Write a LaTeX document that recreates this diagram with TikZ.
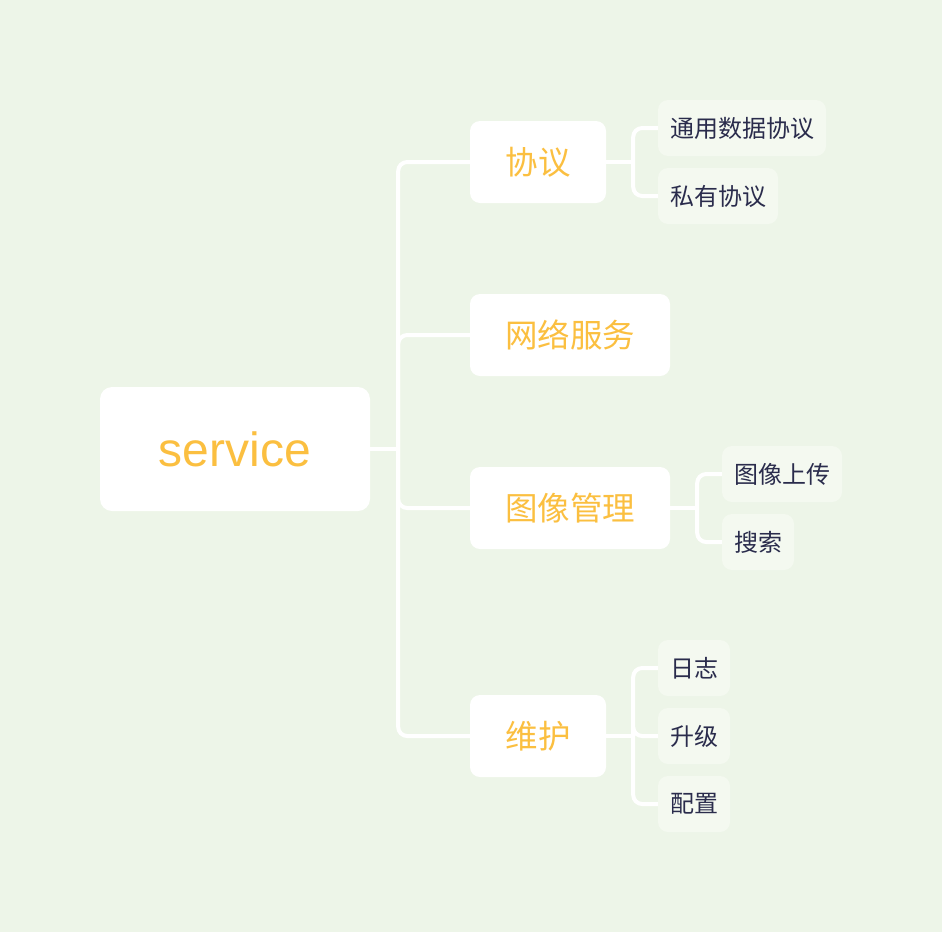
\documentclass[tikz,border=0pt]{standalone}
\usepackage{fontspec}
\setmainfont{Liberation Sans}
\newfontfamily\cjk{Noto Sans CJK SC}
\usetikzlibrary{positioning}

\definecolor{bgcol}{HTML}{EDF5E8}
\definecolor{leafcol}{HTML}{F4F9F0}
\definecolor{orangetxt}{HTML}{FBBF40}
\definecolor{navytxt}{HTML}{2A2C4C}

\begin{document}
\begin{tikzpicture}[x=1pt, y=-1pt,
        root/.style={fill=white, rounded corners=12pt, minimum width=270pt, minimum height=124pt, text=orangetxt, font=\fontsize{48}{48}\selectfont},
        topic/.style={fill=white, rounded corners=10pt, minimum height=82pt, text=orangetxt, font=\cjk\fontsize{32.5}{32.5}\selectfont},
        leaf/.style={fill=leafcol, rounded corners=10pt, minimum height=56pt, text=navytxt, font=\cjk\fontsize{24}{24}\selectfont},
        link/.style={draw=white, line width=4pt, rounded corners=9pt}
    ]
        % Background
        \fill[bgcol] (0,0) rectangle (942,932);
        \useasboundingbox (0,0) rectangle (942,932);

        % Root
        \node[root] (service) at (235,449) {service};

        % Topics
        \node[topic, minimum width=136pt] (xieyi) at (538,162) {协议};
        \node[topic, minimum width=200pt] (wangluo) at (570,335) {网络服务};
        \node[topic, minimum width=200pt] (tuxiang) at (570,508) {图像管理};
        \node[topic, minimum width=136pt] (weihu) at (538,736) {维护};

        % Leaves
        \node[leaf, minimum width=168pt] (tongyong) at (742,128) {通用数据协议};
        \node[leaf, minimum width=120pt] (siyou) at (718,196) {私有协议};
        \node[leaf, minimum width=120pt] (shangchuan) at (782,474) {图像上传};
        \node[leaf, minimum width=72pt] (sousuo) at (758,542) {搜索};
        \node[leaf, minimum width=72pt] (rizhi) at (694,668) {日志};
        \node[leaf, minimum width=72pt] (shengji) at (694,736) {升级};
        \node[leaf, minimum width=72pt] (peizhi) at (694,804) {配置};

        % Hubs
        \coordinate (hubroot) at ([xshift=28pt]service.east);
        \coordinate (hubxieyi) at ([xshift=27pt]xieyi.east);
        \coordinate (hubtuxiang) at ([xshift=27pt]tuxiang.east);
        \coordinate (hubweihu) at ([xshift=27pt]weihu.east);

        % Links
        \draw[link] (service.east) -- (hubroot);
        \foreach \t in {xieyi, wangluo, tuxiang, weihu}
            \draw[link] (hubroot) |- (\t.west);

        \draw[link] (xieyi.east) -- (hubxieyi);
        \foreach \l in {tongyong, siyou}
            \draw[link] (hubxieyi) |- (\l.west);

        \draw[link] (tuxiang.east) -- (hubtuxiang);
        \foreach \l in {shangchuan, sousuo}
            \draw[link] (hubtuxiang) |- (\l.west);

        \draw[link] (weihu.east) -- (hubweihu);
        \foreach \l in {rizhi, shengji, peizhi}
            \draw[link] (hubweihu) |- (\l.west);
    \end{tikzpicture}
\end{document}
